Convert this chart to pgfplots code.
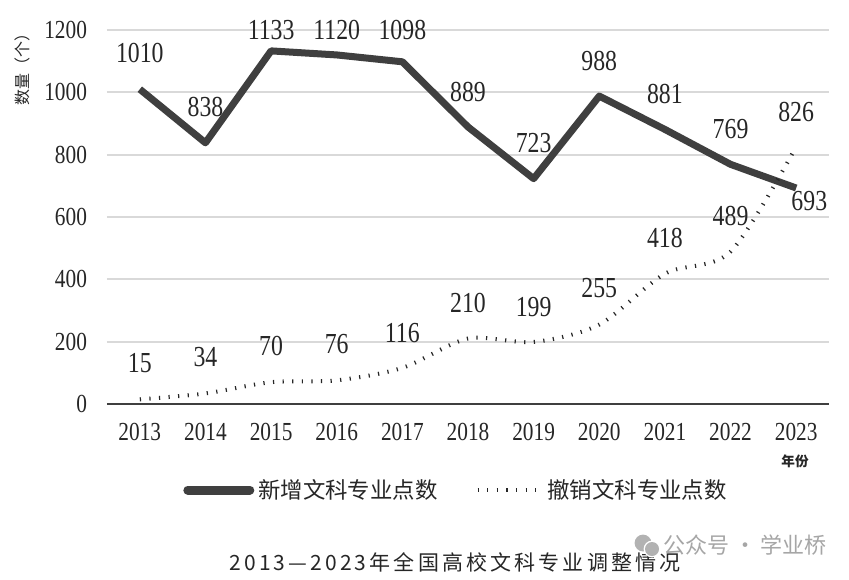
\documentclass[border=0pt]{standalone}
\usepackage{pgfplots}
\usepackage{pgfplotstable}
\pgfplotsset{compat=1.18}
\usepackage{fontspec}
\setmainfont{Liberation Serif}[FakeStretch=0.82]
\newfontfamily\cjk{Noto Sans CJK SC}
\newfontfamily\cjktitle{Noto Sans CJK SC}[LetterSpace=15]
\definecolor{lc}{HTML}{3F3F3F}
\definecolor{tc}{HTML}{262626}
\definecolor{gc}{HTML}{D9D9D9}

\pgfplotstableread{
x new cut
0 1010 15
1 838 34
2 1133 70
3 1120 76
4 1098 116
5 889 210
6 723 199
7 988 255
8 881 418
9 769 489
10 693 826
}\data

\pgfplotstableread{
x y lab
0 1126 1010
1 953 838
2 1200 1133
3 1200 1120
4 1200 1098
5 1001 889
6 837 723
7 1101 988
8 995 881
9 882 769
10.2 651 693
}\newlab

\pgfplotstableread{
x y lab
0 132 15
1 151 34
2 186 70
3 193 76
4 228 116
5 324 210
6 311 199
7 372 255
8 533 418
9 603 489
10 937 826
}\cutlab

\begin{document}
\begin{tikzpicture}
\useasboundingbox[fill=white] (-53.5pt,-87.5pt) rectangle (371pt,202pt);
\begin{axis}[
  at={(0pt,0pt)}, anchor=south west,
  scale only axis, width=361pt, height=187pt,
  xmin=-0.5, xmax=10.5, ymin=0, ymax=1200,
  clip=false,
  axis x line*=bottom, axis y line*=left,
  x axis line style={draw=lc, line width=1pt, -},
  y axis line style={draw=none},
  major tick length=0pt,
  xtick={0,...,10},
  xticklabels={2013,2014,2015,2016,2017,2018,2019,2020,2021,2022,2023},
  ytick={0,200,...,1200},
  yticklabel style={/pgf/number format/1000 sep={}},
  ymajorgrids, grid style={gc, line width=0.9pt},
  /pgf/number format/assume math mode=true,
  tick label style={font=\fontsize{13}{15}\selectfont, text=tc},
  yticklabel style={xshift=-6.5pt},
  xticklabel style={yshift=-6pt},
  legend style={at={(axis description cs:0.4848,-0.23)}, anchor=center, draw=none, fill=none,
    legend columns=2, font=\cjk\fontsize{11.2}{13}\selectfont, text=tc,
    /tikz/every even column/.append style={column sep=17pt},
    legend cell align=left},
]
\addplot[lc, line width=3.5pt, line join=round, mark=none,
  legend image code/.code={\draw[lc, line width=4.5pt, line cap=round] (0pt,0pt) -- (31pt,0pt);}]
  table[x=x, y=new] {\data};
\addlegendentry{新增文科专业点数}
\addplot[tc, line width=2pt, dash pattern=on 0.6pt off 4.2pt, smooth, mark=none,
  legend image code/.code={\draw[tc, line width=2pt, dash pattern=on 0.6pt off 4.2pt] (0pt,0pt) -- (32pt,0pt);}]
  table[x=x, y=cut] {\data};
\addlegendentry{撤销文科专业点数}
\addplot[draw=none, mark=none, forget plot, nodes near coords, point meta=explicit symbolic,
  every node near coord/.append style={anchor=center, inner sep=0pt, font=\fontsize{14.5}{16}\selectfont, text=tc}]
  table[x=x, y=y, meta=lab] {\newlab};
\addplot[draw=none, mark=none, forget plot, nodes near coords, point meta=explicit symbolic,
  every node near coord/.append style={anchor=center, inner sep=0pt, font=\fontsize{14.5}{16}\selectfont, text=tc}]
  table[x=x, y=y, meta=lab] {\cutlab};
\end{axis}
\node[rotate=90, font=\cjk\fontsize{8}{9}\selectfont, text=tc] at (-42.5pt,169.5pt) {数量（个）};
\node[font=\cjk\bfseries\fontsize{6.8}{7}\selectfont, text=tc] at (344pt,-28.5pt) {年份};
\node[font=\cjktitle\fontsize{10.5}{12}\selectfont, text=tc] at (174pt,-79pt) {2013—2023年全国高校文科专业调整情况};
\fill[black!30] (268pt,-69.5pt) circle (4.2pt);
\fill[white] (272.5pt,-72.5pt) circle (4.2pt);
\fill[black!30] (272.5pt,-72.5pt) circle (3.5pt);
\node[font=\cjk\fontsize{11}{13}\selectfont, text=black!35] at (319pt,-70.5pt) {公众号 · 学业桥};
\end{tikzpicture}
\end{document}
